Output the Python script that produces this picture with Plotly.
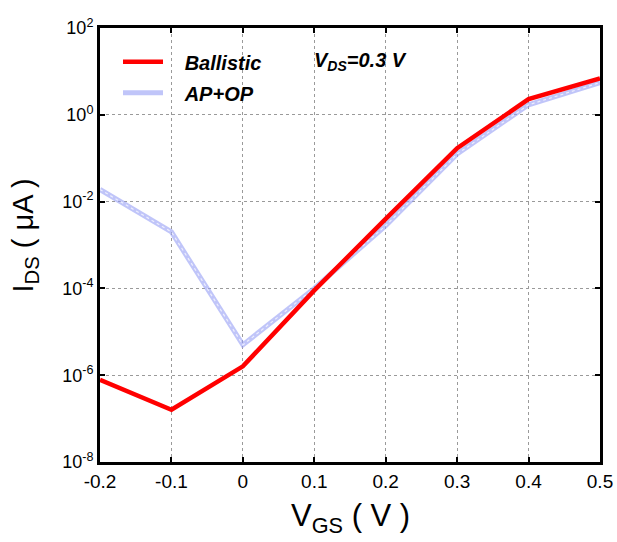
import plotly.graph_objects as go

vgs = [-0.2, -0.1, 0.0, 0.1, 0.2, 0.3, 0.4, 0.5]
ballistic = [7.8e-7, 1.6e-7, 1.6e-6, 9e-5, 4.0e-3, 0.17, 2.3, 6.9]
ap_op = [1.9e-2, 2.0e-3, 5.0e-6, 1.0e-4, 2.8e-3, 0.125, 1.7, 5.5]
x_ticks = [-0.2, -0.1, 0, 0.1, 0.2, 0.3, 0.4, 0.5]
x_ticklabels = ["-0.2", "-0.1", "0", "0.1", "0.2", "0.3", "0.4", "0.5"]
y_exps = [-8, -6, -4, -2, 0, 2]

SANS = "Liberation Sans, Arial"
NB = "\u00a0"

fig = go.Figure()
fig.add_trace(go.Scatter(
    x=vgs, y=ap_op, mode="lines", name=NB * 3 + "AP+OP",
    line=dict(color="rgba(150,158,245,0.6)", width=5),
    legendrank=2, legendgroup="b",
))
fig.add_trace(go.Scatter(
    x=vgs, y=ap_op, mode="lines", showlegend=False, hoverinfo="skip",
    line=dict(color="rgba(255,255,255,0.7)", width=1.2, dash="dot"),
))
fig.add_trace(go.Scatter(
    x=vgs, y=ballistic, mode="lines", name=NB * 3 + "Ballistic",
    line=dict(color="#ff0000", width=4.5),
    legendrank=1, legendgroup="a",
))

axis_common = dict(
    showline=True, linecolor="black", linewidth=3, mirror="ticks",
    ticks="inside", ticklen=5, tickwidth=2, tickcolor="black",
    showgrid=True, gridcolor="#9a9a9a", gridwidth=1, griddash="dot",
    zeroline=False, automargin=False,
)

fig.update_layout(
    width=617, height=542,
    margin=dict(l=100, r=17, t=28, b=80),
    paper_bgcolor="white", plot_bgcolor="white",
    showlegend=True,
    legend=dict(
        x=0.036, y=0.967, xanchor="left", yanchor="top",
        bgcolor="rgba(0,0,0,0)",
        font=dict(family=SANS, size=20, color="black", weight="bold", style="italic"),
        tracegroupgap=2, traceorder="grouped", itemwidth=40,
    ),
    xaxis=dict(
        range=[-0.2, 0.5], tickvals=x_ticks, ticktext=x_ticklabels,
        tickfont=dict(family=SANS, size=19, color="black"),
        **axis_common,
    ),
    yaxis=dict(
        type="log", range=[-8, 2],
        tickvals=[10.0 ** e for e in y_exps],
        ticktext=[f"10<sup>{e}</sup>" for e in y_exps],
        tickfont=dict(family=SANS, size=18, color="black"),
        **axis_common,
    ),
    annotations=[
        dict(
            text="V<sub>DS</sub>=0.3 V", xref="paper", yref="paper",
            x=0.423, y=0.922, xanchor="left", yanchor="middle", showarrow=False,
            font=dict(family=SANS, size=20, color="black", weight="bold", style="italic"),
        ),
        dict(
            text="I<sub>DS</sub> ( μA )", xref="paper", yref="paper",
            x=-0.15, y=0.522, xanchor="center", yanchor="middle", showarrow=False,
            textangle=-90,
            font=dict(family=SANS, size=29, color="black"),
        ),
        dict(
            text="V<sub>GS</sub> ( V )", xref="paper", yref="paper",
            x=0.5, y=-0.079, xanchor="center", yanchor="top", showarrow=False,
            font=dict(family=SANS, size=31, color="black"),
        ),
    ],
)

fig.write_html(
    "out.html",
    config={"displayModeBar": False},
    post_script="document.body.style.margin='0';document.body.style.overflow='hidden';",
)
